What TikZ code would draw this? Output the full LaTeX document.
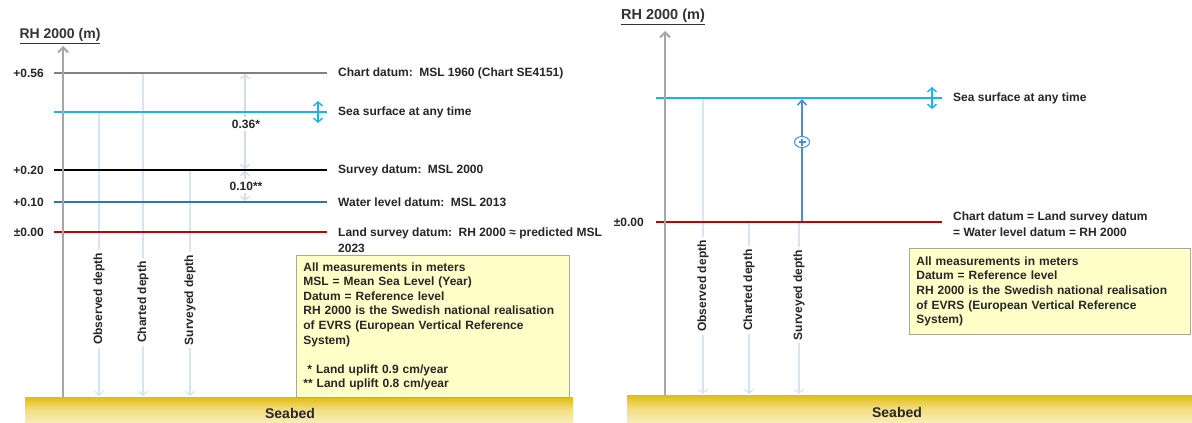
\documentclass[tikz,border=0pt]{standalone}
\usepackage{fontspec}
\setmainfont{Liberation Sans}
\usetikzlibrary{arrows.meta,shapes.geometric}
\definecolor{axisgray}{HTML}{A6A6A6}
\definecolor{chartgray}{HTML}{808080}
\definecolor{seacyan}{HTML}{1FB0E8}
\definecolor{wlblue}{HTML}{2E75B6}
\definecolor{landred}{HTML}{C00000}
\definecolor{depthline}{HTML}{D6E5F3}
\definecolor{dimline}{HTML}{D0DCE8}
\definecolor{notefill}{HTML}{FFFFC8}
\definecolor{noteborder}{HTML}{A8A898}
\definecolor{goldtop}{HTML}{E3BD10}
\definecolor{goldbot}{HTML}{FAEDB8}
\definecolor{plusblue}{HTML}{4A8FD6}
\tikzset{
  txt/.style={font=\fontsize{12}{16}\selectfont\bfseries, inner sep=0pt, text=black!85},
  val/.style={txt, anchor=east},
  lab/.style={txt, anchor=west, align=left},
  title/.style={font=\fontsize{14}{16}\selectfont\bfseries, inner sep=0pt, text=black!80},
  level/.style={line width=2.3pt},
  axisline/.style={draw=axisgray, line width=2.6pt, -{Straight Barb[length=5pt,width=10pt,line width=2pt]}},
  depth/.style={draw=depthline, line width=1.2pt, -{Straight Barb[length=4pt,width=9pt]}},
  depthlab/.style={txt, rotate=90, fill=white, inner xsep=3pt, inner ysep=2pt},
  dim/.style={draw=dimline, line width=1.2pt, {Straight Barb[length=4pt,width=9pt]}-{Straight Barb[length=4pt,width=9pt]}},
  dimlab/.style={txt, fill=white, inner sep=3pt},
  seaarrow/.style={draw=seacyan, line width=1.4pt, {Straight Barb[length=4pt,width=9pt]}-{Straight Barb[length=4pt,width=9pt]}},
  note/.style={draw=noteborder, fill=notefill, line width=0.8pt, anchor=north west,
    font=\fontsize{12}{14.6}\selectfont\bfseries, text=black!85, align=left,
    inner xsep=7pt, inner ysep=5pt},
  seabed/.style={top color=goldtop, bottom color=goldbot, middle color=goldbot!70!goldtop, anchor=north west, inner sep=0pt},
  seabedlab/.style={font=\fontsize{14}{16}\selectfont\bfseries, inner sep=0pt, text=black!85},
}
\begin{document}
\begin{tikzpicture}[x=1pt,y=-1pt]
\useasboundingbox (0,0) rectangle (1192,423);
\fill[white] (0,0) rectangle (1192,423);

% ================= LEFT PANEL =================
\node[title] (tL) at (60,36) {\underline{RH 2000 (m)}};
% level coordinates
\coordinate (cdLs) at (54,73);  \coordinate (cdLe) at (327,73);
\coordinate (ssLs) at (54,112); \coordinate (ssLe) at (327,112);
\coordinate (sdLs) at (54,170); \coordinate (sdLe) at (327,170);
\coordinate (wlLs) at (54,202); \coordinate (wlLe) at (327,202);
\coordinate (lsLs) at (54,232); \coordinate (lsLe) at (327,232);

% seabed
\node[seabed, minimum width=548pt, minimum height=26pt] (sbL) at (25,397) {};
\node[seabedlab] (sbLt) at (290,413) {Seabed};

% note box
\node[note, text width=259pt, minimum height=142pt] (noteL) at (296,255) {All measurements in meters\\
MSL = Mean Sea Level (Year)\\
Datum = Reference level\\
RH 2000 is the Swedish national realisation\\
of EVRS (European Vertical Reference\\
System)\\
~\\
\hspace*{4pt}* Land uplift 0.9 cm/year\\
{}** Land uplift 0.8 cm/year};

% depth lines
\coordinate (obLt) at (99,112);  \coordinate (obLb) at (99,396);
\coordinate (chLt) at (143,73);  \coordinate (chLb) at (143,396);
\coordinate (suLt) at (190,170); \coordinate (suLb) at (190,396);
\draw[depth] (obLt) -- (obLb);
\draw[depth] (chLt) -- (chLb);
\draw[depth] (suLt) -- (suLb);
\node[depthlab] (obL) at (99,299) {Observed depth};
\node[depthlab] (chL) at (143,302) {Charted depth};
\node[depthlab] (suL) at (190,300) {Surveyed depth};

% dimension arrows
\coordinate (d1t) at (245,74); \coordinate (d1b) at (245,169);
\coordinate (d2t) at (245,171); \coordinate (d2b) at (245,201);
\draw[dim] (d1t) -- (d1b);
\draw[dim] (d2t) -- (d2b);

% levels
\draw[level, draw=chartgray] (cdLs) -- (cdLe);
\draw[level, draw=seacyan, line width=2.6pt] (ssLs) -- (ssLe);
\draw[level, draw=black] (sdLs) -- (sdLe);
\draw[level, draw=wlblue, line width=2.6pt] (wlLs) -- (wlLe);
\draw[level, draw=landred] (lsLs) -- (lsLe);

\node[dimlab] (d1l) at (246,124) {0.36*};
\node[dimlab] (d2l) at (246,186) {0.10**};

% sea surface variation arrow
\coordinate (saLt) at (318,101); \coordinate (saLb) at (318,123);
\draw[seaarrow] (saLt) -- (saLb);

% axis
\coordinate (axLb) at (63,397); \coordinate (axLt) at (63,46);
\draw[axisline] (axLb) -- (axLt);

% value labels
\node[val] (v56) at (44,73) {+0.56};
\node[val] (v20) at (44,170) {+0.20};
\node[val] (v10) at (44,202) {+0.10};
\node[val] (v00) at (44,232) {\char"00B1 0.00};

% level labels
\node[lab] (lcd) at (338,73) {Chart datum:\, MSL 1960 (Chart SE4151)};
\node[lab] (lss) at (338,112) {Sea surface at any time};
\node[lab] (lsd) at (338,170) {Survey datum:\, MSL 2000};
\node[lab] (lwl) at (338,202) {Water level datum:\, MSL 2013};
\node[lab] (lls) at (338,240) {Land survey datum:\, RH 2000 \char"2248{} predicted MSL\\2023};

% ================= RIGHT PANEL =================
\node[title, font=\fontsize{14.5}{16}\selectfont\bfseries] (tR) at (663,17) {\underline{RH 2000 (m)}};
\coordinate (ssRs) at (656,98);  \coordinate (ssRe) at (942,98);
\coordinate (lsRs) at (656,222); \coordinate (lsRe) at (942,222);

\node[seabed, minimum width=565pt, minimum height=28pt] (sbR) at (627,395) {};
\node[seabedlab] (sbRt) at (897,412) {Seabed};

\node[note, text width=267pt, minimum height=86pt] (noteR) at (909,248) {All measurements in meters\\
Datum = Reference level\\
RH 2000 is the Swedish national realisation\\
of EVRS (European Vertical Reference\\
System)};

\coordinate (obRt) at (703,98);  \coordinate (obRb) at (703,394);
\coordinate (chRt) at (749,222); \coordinate (chRb) at (749,394);
\coordinate (suRt) at (799,222); \coordinate (suRb) at (799,394);
\draw[depth] (obRt) -- (obRb);
\draw[depth] (chRt) -- (chRb);
\draw[depth] (suRt) -- (suRb);
\node[depthlab] (obR) at (703,286) {Observed depth};
\node[depthlab] (chR) at (749,290) {Charted depth};
\node[depthlab] (suR) at (799,295) {Surveyed depth};

\draw[level, draw=seacyan, line width=2.6pt] (ssRs) -- (ssRe);
\draw[level, draw=landred] (lsRs) -- (lsRe);

% positive measurement arrow
\coordinate (pmb) at (802,221); \coordinate (pmt) at (802,99);
\draw[draw=plusblue, line width=1.6pt, -{Straight Barb[length=5pt,width=9pt]}] (pmb) -- (pmt);
\node[ellipse, draw=plusblue, fill=white, line width=1pt, minimum width=15pt, minimum height=11pt, inner sep=0pt] (plus) at (802,142) {};
\draw[plusblue, line width=1.3pt] ([xshift=-3.5pt]plus.center) -- ([xshift=3.5pt]plus.center);
\draw[plusblue, line width=1.3pt] ([yshift=-3.5pt]plus.center) -- ([yshift=3.5pt]plus.center);

\coordinate (saRt) at (932,87); \coordinate (saRb) at (932,109);
\draw[seaarrow] (saRt) -- (saRb);

\coordinate (axRb) at (665,395); \coordinate (axRt) at (665,31);
\draw[axisline] (axRb) -- (axRt);

\node[val] (r00) at (644,222) {\char"00B1 0.00};
\node[lab] (rss) at (953,98) {Sea surface at any time};
\node[lab] (rls) at (953,224) {Chart datum = Land survey datum\\= Water level datum = RH 2000};
\end{tikzpicture}
\end{document}
